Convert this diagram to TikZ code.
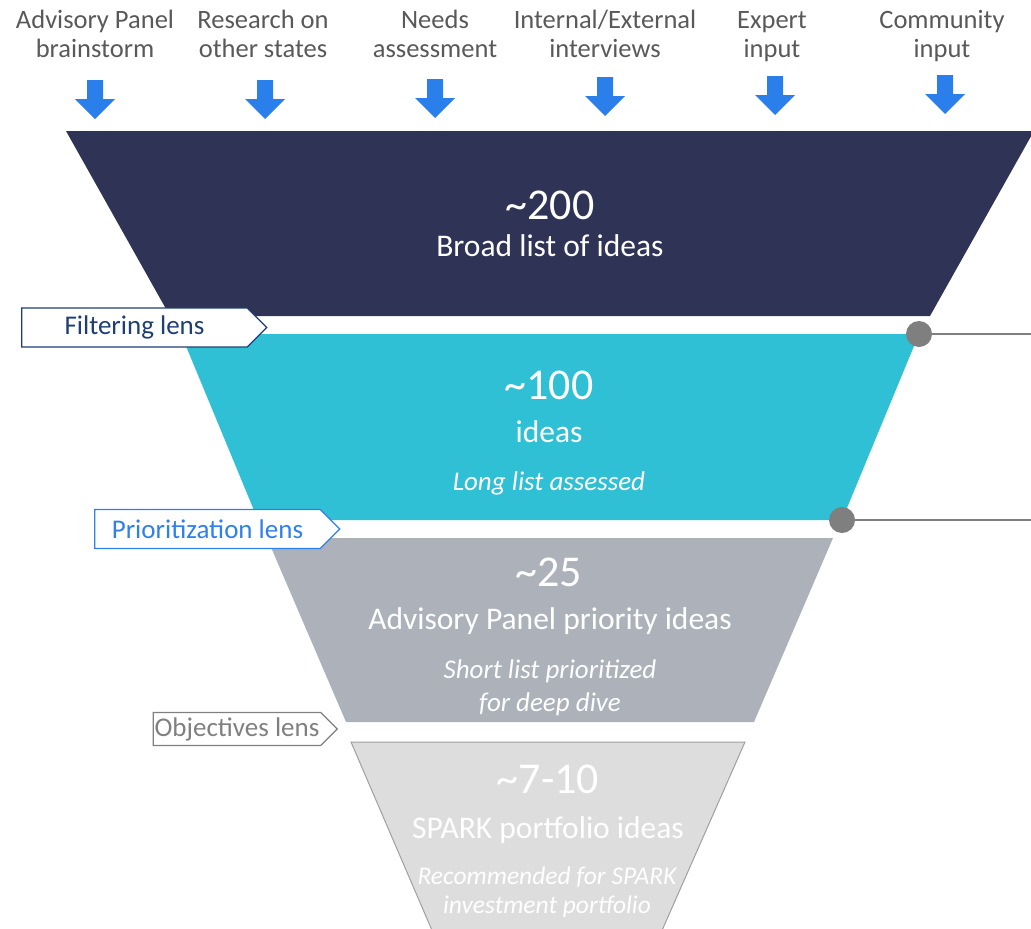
\documentclass[tikz,border=0pt]{standalone}
\usepackage{fontspec}
\setmainfont{Carlito}
\usetikzlibrary{positioning, shapes.symbols}

\definecolor{srcgray}{HTML}{595959}
\definecolor{inblue}{HTML}{2B7FEA}
\definecolor{stageA}{HTML}{2F3457}
\definecolor{stageB}{HTML}{30C0D6}
\definecolor{stageC}{HTML}{ADB2BA}
\definecolor{stageD}{HTML}{DDDDDD}
\definecolor{edgeD}{HTML}{A0A0A0}
\definecolor{lensA}{HTML}{1F3F74}
\definecolor{lensB}{HTML}{2F80ED}
\definecolor{lensC}{HTML}{808080}
\definecolor{dotgray}{HTML}{7F7F7F}

\tikzset{
    src/.style={text=srcgray, align=center, anchor=base, inner sep=0pt,
        font=\fontsize{26.5}{29}\selectfont},
    big/.style={text=white, anchor=base, inner sep=0pt, font=\fontsize{44}{48}\selectfont},
    mid/.style={text=white, anchor=base, inner sep=0pt, font=\fontsize{31.5}{36}\selectfont},
    note/.style={text=white, align=center, anchor=base, inner sep=0pt,
        font=\fontsize{27}{31}\selectfont\itshape},
    lens/.style={signal, signal to=east, fill=white, line width=1.3pt,
        minimum height=39pt, inner sep=0pt, font=\fontsize{27}{30}\selectfont},
    dot/.style={circle, fill=dotgray, minimum size=26pt, inner sep=0pt},
    link/.style={dotgray, line width=2.5pt},
}

\begin{document}
\begin{tikzpicture}[x=1pt, y=-1pt]
    \useasboundingbox (0,0) rectangle (1031,929);
    \clip (0,0) rectangle (1031,929);

    \node[src] (s1) at (95,57) {Advisory Panel\\brainstorm};
    \node[src] (s2) at (263,57) {Research on\\other states};
    \node[src] (s3) at (435,57) {Needs\\assessment};
    \node[src] (s4) at (605,57) {Internal/External\\interviews};
    \node[src] (s5) at (772,57) {Expert\\input};
    \node[src] (s6) at (942,57) {Community\\input};

    \foreach \x/\y in {95/80, 265/80, 435/79, 605/77, 775/76, 945/75}
        \fill[inblue] (\x-8,\y) -- (\x+8,\y) -- (\x+8,\y+19) -- (\x+20,\y+19)
            -- (\x,\y+39) -- (\x-20,\y+19) -- (\x-8,\y+19) -- cycle;

    \fill[stageA] (66,131) -- (1034,131) -- (930,316) -- (170,316) -- cycle;
    \fill[stageB] (181,334) -- (919,334) -- (842,520) -- (258,520) -- cycle;
    \fill[stageC] (267,538) -- (833,538) -- (754,722) -- (346,722) -- cycle;
    \filldraw[fill=stageD, draw=edgeD, line width=1pt]
        (351,742) -- (745,742) -- (660,935) -- (434,935) -- cycle;

    \node[big] (c1) at (550,219) {\textasciitilde200};
    \node[mid] (d1) at (550,256) {Broad list of ideas};
    \node[big] (c2) at (549,399) {\textasciitilde100};
    \node[mid] (d2) at (549,442) {ideas};
    \node[note] (m2) at (549,490) {Long list assessed};
    \node[big] (c3) at (549,586) {\textasciitilde25};
    \node[mid] (d3) at (550,629) {Advisory Panel priority ideas};
    \node[note, font=\fontsize{27}{33}\selectfont\itshape] (m3) at (550,711) {Short list prioritized\\for deep dive};
    \node[big] (c4) at (548,793) {\textasciitilde7-10};
    \node[mid] (d4) at (548,838) {SPARK portfolio ideas};
    \node[note, font=\fontsize{25.5}{29}\selectfont\itshape] (m4) at (547,913) {Recommended for SPARK\\investment portfolio};

    \node[lens, draw=lensA, text=lensA, minimum width=245pt] (l1) at (134.5,327.5) {Filtering lens};
    \node[lens, draw=lensB, text=lensB, minimum width=245pt] (l2) at (207.5,529) {Prioritization lens};
    \node[lens, draw=lensC, text=lensC, minimum width=184pt, minimum height=33pt] (l3) at (237,729) {Objectives lens};

    \coordinate (e1) at (1031,334);
    \coordinate (e2) at (1031,520);
    \node[dot] (p1) at (919,334) {};
    \node[dot] (p2) at (842,520) {};
    \draw[link] (p1) -- (e1);
    \draw[link] (p2) -- (e2);
\end{tikzpicture}
\end{document}
